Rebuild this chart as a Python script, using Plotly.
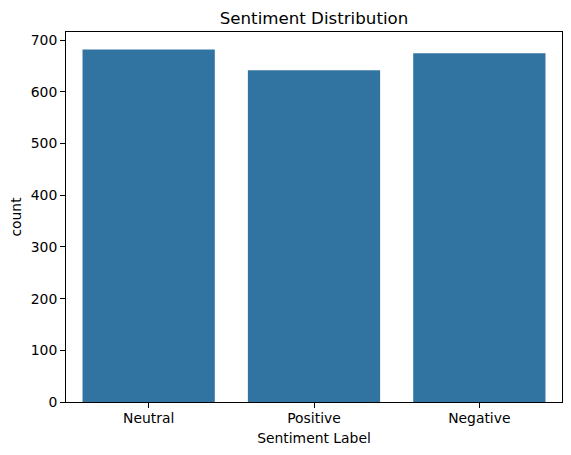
# Sentiment distribution bar chart
from plotly import graph_objects as go

categories = ["Neutral", "Positive", "Negative"]
counts = [682, 642, 675]
y_ticks = [0, 100, 200, 300, 400, 500, 600, 700]

fig = go.Figure(data=[go.Bar(x=categories, y=counts, width=0.8,
                             marker=dict(color="#3274a1", line=dict(width=0)))])

# the page adds an 8px body margin, so margins are shifted to compensate
fig.update_layout(width=563, height=447,
                  margin=dict(l=58, r=9, t=24, b=53, autoexpand=False),
                  paper_bgcolor="white", plot_bgcolor="white",
                  font=dict(family="DejaVu Sans", size=13.9, color="black"),
                  showlegend=False,
                  title=dict(text="Sentiment Distribution", font=dict(size=16.67),
                             x=0.5, xref="paper", xanchor="center",
                             y=1, yref="paper", yanchor="bottom", pad=dict(b=8)))
fig.update_xaxes(title=dict(text="Sentiment Label", standoff=8, font=dict(size=13.9)),
                 range=[-0.5, 2.5], showgrid=False, showline=True, mirror=True,
                 linecolor="black", linewidth=1, ticks="outside", ticklen=5,
                 tickcolor="black", zeroline=False, ticklabelstandoff=-2)
fig.update_yaxes(title=dict(text="count", standoff=9, font=dict(size=13.9)),
                 range=[0, 716], tickvals=y_ticks, showgrid=False, showline=True,
                 mirror=True, linecolor="black", linewidth=1, ticks="outside",
                 ticklen=5, tickcolor="black", zeroline=False)

fig.write_html("out.html")
